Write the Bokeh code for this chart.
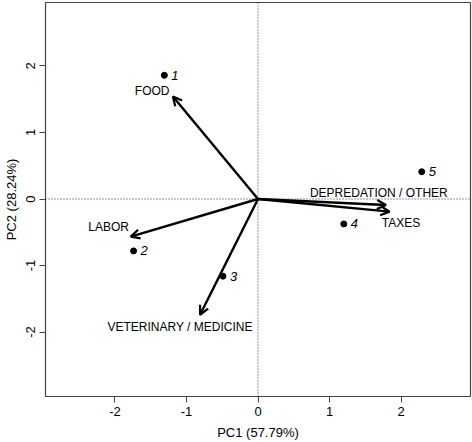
from bokeh.plotting import figure
from bokeh.models import Arrow, OpenHead, Span, ColumnDataSource, FixedTicker, Range1d
from bokeh.core.properties import value
from bokeh.embed import file_html
from bokeh.resources import INLINE

# sample scores
obs_labels = ["1", "2", "3", "4", "5"]
obs_pc1 = [-1.31, -1.74, -0.49, 1.20, 2.29]
obs_pc2 = [1.86, -0.78, -1.16, -0.375, 0.41]

# variable loadings (arrow tips)
var_names = ["FOOD", "LABOR", "VETERINARY / MEDICINE", "DEPREDATION / OTHER", "TAXES"]
var_pc1 = [-1.19, -1.78, -0.81, 1.79, 1.84]
var_pc2 = [1.54, -0.565, -1.74, -0.09, -0.19]
# label anchor positions
lab_pc1 = [-1.48, -2.09, -1.09, 1.69, 2.00]
lab_pc2 = [1.63, -0.415, -1.92, 0.095, -0.355]

x_ticks = [-2, -1, 0, 1, 2]
y_ticks = [-2, -1, 0, 1, 2]
x_title = "PC1 (57.79%)"
y_title = "PC2 (28.24%)"

FONT = "Liberation Sans"

p = figure(width=472, height=442, output_backend="svg", toolbar_location=None,
           x_range=Range1d(-2.972, 2.972), y_range=Range1d(-2.969, 2.954),
           min_border_left=42, min_border_right=2, min_border_top=2, min_border_bottom=45)
p.grid.visible = False
p.background_fill_color = "white"
p.outline_line_color = "#444444"
p.outline_line_width = 1.2

for ax, ticks in ((p.xaxis[0], x_ticks), (p.yaxis[0], y_ticks)):
    ax.ticker = FixedTicker(ticks=ticks)
    ax.major_label_overrides = {t: str(t) for t in ticks}
    ax.axis_line_color = None
    ax.minor_tick_line_color = None
    ax.major_tick_line_color = "#444444"
    ax.major_tick_out = 6
    ax.major_tick_in = 0
    ax.major_label_text_font = FONT
    ax.major_label_text_font_size = "13px"
    ax.major_label_text_color = "black"
    ax.axis_label_text_font = FONT
    ax.axis_label_text_font_size = "13px"
    ax.axis_label_text_font_style = "normal"
    ax.axis_label_text_color = "black"
p.yaxis[0].major_label_orientation = "vertical"
p.xaxis[0].axis_label = x_title
p.yaxis[0].axis_label = y_title
p.xaxis[0].major_label_standoff = 4
p.yaxis[0].major_label_standoff = 4
p.xaxis[0].axis_label_standoff = 6
p.yaxis[0].axis_label_standoff = 5

for dim in ("width", "height"):
    p.add_layout(Span(location=0, dimension=dim, line_color="#2020b0",
                      line_dash="1 2", line_width=1))

for x1, y1 in zip(var_pc1, var_pc2):
    p.add_layout(Arrow(end=OpenHead(size=9, line_width=2.2, line_color="black"),
                       x_start=0, y_start=0, x_end=x1, y_end=y1,
                       line_width=2.4, line_color="black"))

src = ColumnDataSource(dict(x=obs_pc1, y=obs_pc2, t=obs_labels))
p.scatter("x", "y", source=src, size=6, color="black")
p.text("x", "y", text="t", source=src, x_offset=7, text_baseline="middle",
       text_align="left", text_font=value(FONT), text_font_size="13px",
       text_font_style="italic", text_color="black")

vsrc = ColumnDataSource(dict(x=lab_pc1, y=lab_pc2, t=var_names))
p.text("x", "y", text="t", source=vsrc, text_align="center", text_baseline="middle",
       text_font=value(FONT), text_font_size="12px", text_color="black")

open("out.html", "w").write(file_html(p, INLINE))
